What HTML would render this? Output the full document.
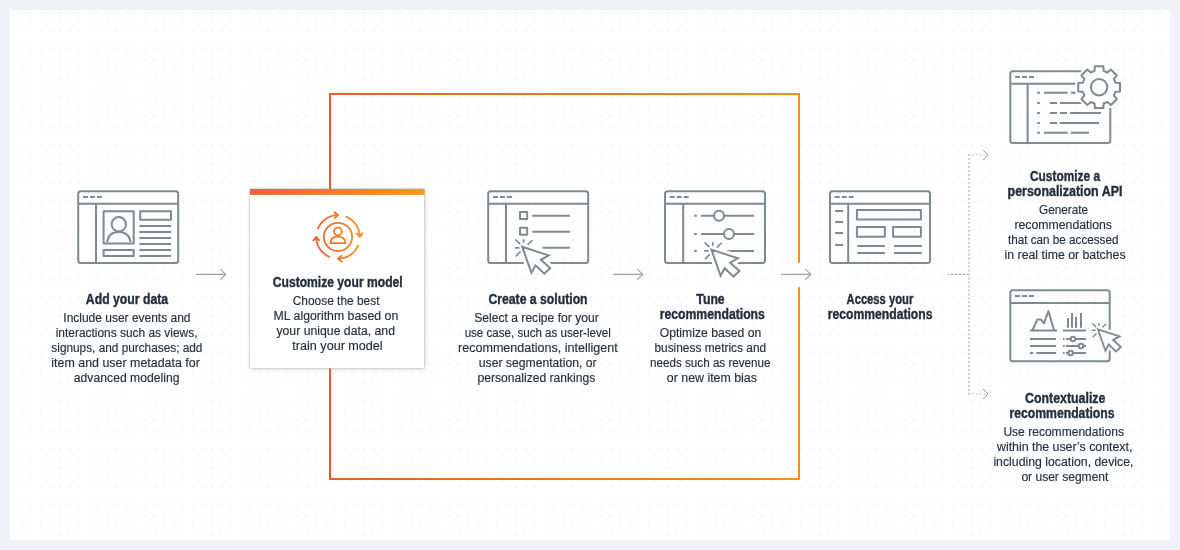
<!DOCTYPE html>
<html lang="en">
<head>
<meta charset="utf-8">
<title>How it works</title>
<style>
html,body{margin:0;padding:0;background:#eff3f7;}
body{width:1180px;height:550px;overflow:hidden;position:relative;}
#panel{position:absolute;left:10px;top:10px;width:1160px;height:530px;background-color:#fff;
  background-image:radial-gradient(circle at 50% 50%, #dee4ea 0, #dee4ea 0.3px, rgba(255,255,255,0) 0.9px);
  background-size:9.5px 9.5px;background-position:-2.35px -2.75px;}
#card{position:absolute;left:250px;top:189px;width:174px;height:179px;background:#fff;box-shadow:0.3px 0.4px 2px rgba(0,28,36,.28),1px 1px 5px rgba(0,28,36,.17);}
svg{position:absolute;left:0;top:0;will-change:transform;}
text{font-family:"Liberation Sans",sans-serif;fill:#232f3e;text-anchor:middle;}
text.h{font-weight:bold;font-size:14.5px;stroke:#232f3e;stroke-width:0.4px;}
text.b{font-size:12.3px;fill:#232f3e;stroke:#232f3e;stroke-width:0.15px;}
.g{fill:none;stroke:#7f8a90;stroke-width:2;stroke-linecap:butt;stroke-linejoin:round;}
</style>
</head>
<body>
<div id="panel"></div>
<div id="card"></div>
<svg width="1180" height="550" viewBox="0 0 1180 550">
<defs>
<linearGradient id="gf" gradientUnits="userSpaceOnUse" x1="330" y1="0" x2="799" y2="0"><stop offset="0" stop-color="#ee5a2a"/><stop offset="1" stop-color="#f3900f"/></linearGradient>
<linearGradient id="gb" gradientUnits="userSpaceOnUse" x1="250" y1="0" x2="425" y2="0"><stop offset="0" stop-color="#ee6137"/><stop offset="1" stop-color="#f7981d"/></linearGradient>
<linearGradient id="gi" gradientUnits="userSpaceOnUse" x1="313" y1="0" x2="363" y2="0"><stop offset="0" stop-color="#ec5f35"/><stop offset="1" stop-color="#f7941d"/></linearGradient>
<filter id="sh" x="-10%" y="-10%" width="120%" height="120%"><feGaussianBlur in="SourceAlpha" stdDeviation="1.7"/><feOffset dx="0.6" dy="0.7" result="o"/><feFlood flood-color="#4d5f60" flood-opacity="0.36"/><feComposite in2="o" operator="in"/><feMerge><feMergeNode/><feMergeNode in="SourceGraphic"/></feMerge></filter>
<g id="cur">
<path d="M0,0L26.5,8.7L18.7,13.1L28,21.5L22.1,27L13.3,18.6L9.2,26.2Z" fill="#fff" stroke="#fff" stroke-width="8" stroke-linejoin="miter"/>
<path d="M1.4,-7.4V-3.9M-6.8,-7.2L-2.1,-2.5M10.2,-6.7L5.4,-2.1M-7.3,1.2H-2.7M-6.4,9.6L-1.6,4.8" fill="none" stroke-width="1.7"/>
<path d="M0,0L26.5,8.7L18.7,13.1L28,21.5L22.1,27L13.3,18.6L9.2,26.2Z" fill="#fff" stroke-linejoin="miter"/>
</g>
<g id="win"><rect x="0" y="0" width="100" height="71.8" rx="2.5"/><path d="M0,12.5H100M4.8,5.7h4.9m2.1,0h4.9m2.1,0h4.9"/></g>
</defs>
<path d="M799,262.8V94H330V189M330,368.4V479H799V287.2" fill="none" stroke="url(#gf)" stroke-width="2" stroke-linejoin="miter"/>
<rect x="250" y="189" width="174.7" height="5.9" fill="url(#gb)"/>
<path d="M196,274.4H225.7M220.2,269.2L225.7,274.4L220.2,279.59999999999997" fill="none" stroke="#93a5a4" stroke-width="1.1"/>
<path d="M613,274.4H642.7M637.2,269.2L642.7,274.4L637.2,279.59999999999997" fill="none" stroke="#93a5a4" stroke-width="1.1"/>
<path d="M781,274.4H810.8M805.3,269.2L810.8,274.4L805.3,279.59999999999997" fill="none" stroke="#93a5a4" stroke-width="1.1"/>
<path d="M948,274.4H968" fill="none" stroke="#7f9291" stroke-width="1" stroke-dasharray="2.4 1.7" stroke-dashoffset="1.4"/>
<path d="M969,154.1V395" fill="none" stroke="#c6d1d0" stroke-width="2" stroke-dasharray="2 1.98"/>
<path d="M971.8,155.1H986" fill="none" stroke="#dbe2e1" stroke-width="2" stroke-dasharray="2 1.95"/>
<path d="M971.8,394H986" fill="none" stroke="#dbe2e1" stroke-width="2" stroke-dasharray="2 1.95"/>
<path d="M983.2,150.2L988,155.1L983.2,160M983.2,389.1L988,394L983.2,398.9" fill="none" stroke="#8b9e9d" stroke-width="1"/>
<g fill="none" stroke="url(#gi)" stroke-width="1.8" stroke-linejoin="round" stroke-linecap="butt"><path d="M317.65,229.09A21.8,21.8 0 0 1 337.24,215.11M333.72,211.83L338.04,215.09L333.96,218.63M345.81,216.55A21.8,21.8 0 0 1 359.79,236.14M363.07,232.62L359.81,236.94L356.27,232.86M358.35,244.71A21.8,21.8 0 0 1 338.76,258.69M342.28,261.97L337.96,258.71L342.04,255.17M330.19,257.25A21.8,21.8 0 0 1 316.21,237.66M312.93,241.18L316.19,236.86L319.73,240.94"/>
<circle cx="338" cy="236.9" r="14.1"/><circle cx="337.9" cy="231.5" r="3.9"/><path d="M330.4,243.2C330.6,238.6 333.6,236.6 337.9,236.6C342.2,236.6 345.2,238.6 345.4,243.2Z"/></g>
<g class="g">
<use href="#win" x="78.2" y="191.3"/>
<path d="M96,203.8V263.1"/>
<rect x="103.6" y="211.3" width="30.1" height="32.1"/><circle cx="118.8" cy="224.3" r="7.2"/><path d="M107,242.2C108,235.5 112.5,232 118.8,232C125,232 129.6,235.5 130.6,242.2"/>
<rect x="103.6" y="249.9" width="30.1" height="6.1"/><rect x="140.2" y="211.3" width="30.8" height="8.4"/>
<path d="M139.4,226H171M139.4,232H171M139.4,238H171M139.4,244H171M139.4,250H171M139.4,256H171"/>
</g>
<g class="g">
<use href="#win" x="488.2" y="191.3"/>
<path d="M506,203.8V263.1"/>
<rect x="520" y="212" width="7.2" height="7"/><rect x="520" y="227.8" width="7.2" height="7"/>
<path d="M532.2,215.8H570M532.2,231.8H570M542.4,247.8H570"/>
<use href="#cur" x="522.2" y="246.7"/>
</g>
<g class="g">
<use href="#win" x="665" y="191.3"/>
<path d="M683.2,203.8V263.1"/>
<path d="M694.1,215.8h2.7M701,215.8H754.1M694.1,234h2.7M701,234H754.1M694.1,250.9h2.7M723,250.9H754.1"/>
<circle cx="719" cy="215.8" r="5" fill="#fff"/><circle cx="729" cy="234" r="5" fill="#fff"/>
<use href="#cur" x="711.4" y="249.6"/>
</g>
<g class="g">
<use href="#win" x="830" y="191.3"/>
<path d="M848.2,203.8V263.1"/>
<path d="M835.1,210.9h8M835.1,222h8M835.1,233.1h8M835.1,244.9h8"/>
<rect x="856.9" y="210" width="64" height="9.5"/><rect x="856.9" y="226.9" width="28" height="9.8"/><rect x="893.1" y="226.9" width="27.8" height="9.8"/>
<path d="M857.3,246H884.9M894,246H921.8M857.3,252.9H884.9M894,252.9H921.8"/>
</g>
<g class="g">
<use href="#win" x="1010.3" y="71.3"/>
<path d="M1027.6,83.8V143.1"/>
<path d="M1037.2,92.8h2.7M1044,92.8H1067.6M1071,92.8H1076.5M1037.2,103h2.7M1050,103H1057M1060,103H1081.5M1037.2,113h2.7M1050,113H1057M1060,113H1067M1070,113H1101M1037.2,123h2.7M1050,123H1057M1060,123H1099M1037.2,132.7h2.7M1044,132.7H1067.6M1071,132.7H1089"/>
<path d="M1094.58,70.91L1094.85,66.33L1103.35,66.33L1103.62,70.91L1107.42,72.49L1110.86,69.44L1116.86,75.44L1113.81,78.88L1115.39,82.68L1119.97,82.95L1119.97,91.45L1115.39,91.72L1113.81,95.52L1116.86,98.96L1110.86,104.96L1107.42,101.91L1103.62,103.49L1103.35,108.07L1094.85,108.07L1094.58,103.49L1090.78,101.91L1087.34,104.96L1081.34,98.96L1084.39,95.52L1082.81,91.72L1078.23,91.45L1078.23,82.95L1082.81,82.68L1084.39,78.88L1081.34,75.44L1087.34,69.44L1090.78,72.49Z" fill="#fff" stroke="#fff" stroke-width="6"/>
<path d="M1094.58,70.91L1094.85,66.33L1103.35,66.33L1103.62,70.91L1107.42,72.49L1110.86,69.44L1116.86,75.44L1113.81,78.88L1115.39,82.68L1119.97,82.95L1119.97,91.45L1115.39,91.72L1113.81,95.52L1116.86,98.96L1110.86,104.96L1107.42,101.91L1103.62,103.49L1103.35,108.07L1094.85,108.07L1094.58,103.49L1090.78,101.91L1087.34,104.96L1081.34,98.96L1084.39,95.52L1082.81,91.72L1078.23,91.45L1078.23,82.95L1082.81,82.68L1084.39,78.88L1081.34,75.44L1087.34,69.44L1090.78,72.49Z" fill="#fff"/><circle cx="1099.1" cy="87.2" r="8.2"/>
</g>
<g class="g">
<rect x="1010.3" y="290.3" width="99.4" height="71" rx="2.5"/><path d="M1010.3,303H1109.7M1015,296h5m2,0h5m2,0h5"/>
<path d="M1030,330.6H1057M1032.6,330L1037.4,319.4H1041L1044,323.4L1048.4,311L1054,330"/>
<path d="M1063,330.6H1086M1068,318V327.8M1072,313V327.8M1076,317V327.8M1081,313V327.8"/>
<path d="M1030,339H1056M1030,346H1056M1030,353h3M1036.4,353H1056"/>
<path d="M1063,339h1.6M1066,339H1086M1063,346h1.6M1066,346H1086M1063,353h1.6M1066,353H1086"/>
<circle cx="1073" cy="339" r="2.3" fill="#fff"/><circle cx="1081" cy="346" r="2.3" fill="#fff"/><circle cx="1070.6" cy="353" r="2.3" fill="#fff"/>
<g transform="translate(1097.9,329.3) scale(0.82)"><use href="#cur" stroke-width="2.3"/></g>
</g>
<g>
<text class="h" x="127" y="304" textLength="82.3" lengthAdjust="spacingAndGlyphs">Add your data</text>
<text class="b" x="126.9" y="322" textLength="127.2" lengthAdjust="spacingAndGlyphs">Include user events and</text>
<text class="b" x="126.6" y="337" textLength="141.8" lengthAdjust="spacingAndGlyphs">interactions such as views,</text>
<text class="b" x="126.9" y="352" textLength="151.1" lengthAdjust="spacingAndGlyphs">signups, and purchases; add</text>
<text class="b" x="125.6" y="367" textLength="148.5" lengthAdjust="spacingAndGlyphs">item and user metadata for</text>
<text class="b" x="126.7" y="382" textLength="105.8" lengthAdjust="spacingAndGlyphs">advanced modeling</text>
<text class="h" x="337.7" y="287" textLength="129.9" lengthAdjust="spacingAndGlyphs">Customize your model</text>
<text class="b" x="336.1" y="305" textLength="86.7" lengthAdjust="spacingAndGlyphs">Choose the best</text>
<text class="b" x="335.9" y="320" textLength="124.7" lengthAdjust="spacingAndGlyphs">ML algorithm based on</text>
<text class="b" x="335.7" y="335" textLength="118.6" lengthAdjust="spacingAndGlyphs">your unique data, and</text>
<text class="b" x="337.5" y="350" textLength="90.3" lengthAdjust="spacingAndGlyphs">train your model</text>
<text class="h" x="538" y="304" textLength="99.2" lengthAdjust="spacingAndGlyphs">Create a solution</text>
<text class="b" x="536.5" y="322" textLength="124.5" lengthAdjust="spacingAndGlyphs">Select a recipe for your</text>
<text class="b" x="537.7" y="337" textLength="146.1" lengthAdjust="spacingAndGlyphs">use case, such as user-level</text>
<text class="b" x="537.9" y="352" textLength="159.7" lengthAdjust="spacingAndGlyphs">recommendations, intelligent</text>
<text class="b" x="537.7" y="367" textLength="117.8" lengthAdjust="spacingAndGlyphs">user segmentation, or</text>
<text class="b" x="536.4" y="382" textLength="117.8" lengthAdjust="spacingAndGlyphs">personalized rankings</text>
<text class="h" x="710.5" y="304" textLength="28.4" lengthAdjust="spacingAndGlyphs">Tune</text>
<text class="h" x="712.3" y="319" textLength="105.1" lengthAdjust="spacingAndGlyphs">recommendations</text>
<text class="b" x="710.5" y="337" textLength="101.6" lengthAdjust="spacingAndGlyphs">Optimize based on</text>
<text class="b" x="710.3" y="352" textLength="111.7" lengthAdjust="spacingAndGlyphs">business metrics and</text>
<text class="b" x="710.3" y="367" textLength="120.4" lengthAdjust="spacingAndGlyphs">needs such as revenue</text>
<text class="b" x="711.9" y="382" textLength="90.1" lengthAdjust="spacingAndGlyphs">or new item bias</text>
<text class="h" x="879.9" y="304" textLength="66.7" lengthAdjust="spacingAndGlyphs">Access your</text>
<text class="h" x="880.1" y="319" textLength="104.7" lengthAdjust="spacingAndGlyphs">recommendations</text>
<text class="h" x="1065" y="181" textLength="70" lengthAdjust="spacingAndGlyphs">Customize a</text>
<text class="h" x="1065" y="196" textLength="114.8" lengthAdjust="spacingAndGlyphs">personalization API</text>
<text class="b" x="1063.5" y="214" textLength="49" lengthAdjust="spacingAndGlyphs">Generate</text>
<text class="b" x="1063.2" y="229" textLength="97.6" lengthAdjust="spacingAndGlyphs">recommendations</text>
<text class="b" x="1063.2" y="244" textLength="110.4" lengthAdjust="spacingAndGlyphs">that can be accessed</text>
<text class="b" x="1065.1" y="259" textLength="121" lengthAdjust="spacingAndGlyphs">in real time or batches</text>
<text class="h" x="1065.2" y="403" textLength="80.4" lengthAdjust="spacingAndGlyphs">Contextualize</text>
<text class="h" x="1062" y="418" textLength="105.2" lengthAdjust="spacingAndGlyphs">recommendations</text>
<text class="b" x="1063.7" y="436" textLength="120.6" lengthAdjust="spacingAndGlyphs">Use recommendations</text>
<text class="b" x="1064.7" y="451" textLength="135.4" lengthAdjust="spacingAndGlyphs">within the user’s context,</text>
<text class="b" x="1063.4" y="466" textLength="140" lengthAdjust="spacingAndGlyphs">including location, device,</text>
<text class="b" x="1064.9" y="481" textLength="87" lengthAdjust="spacingAndGlyphs">or user segment</text>
</g>
</svg>
</body>
</html>
